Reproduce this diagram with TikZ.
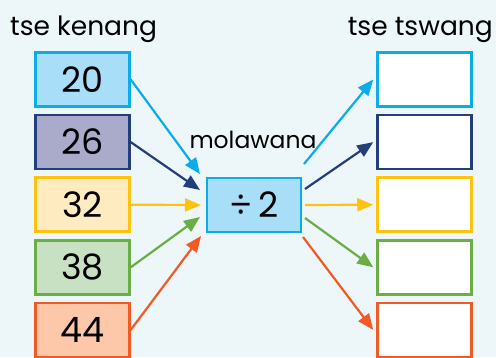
\documentclass[tikz,border=0pt]{standalone}
\usepackage{fontspec}
\setmainfont{Poppins}
\usetikzlibrary{arrows.meta}

\definecolor{bgcol}{HTML}{EDF6F8}
\definecolor{skyline}{HTML}{0AADE8}
\definecolor{skyfill}{HTML}{A8DEF7}
\definecolor{navyline}{HTML}{233F7B}
\definecolor{navyfill}{HTML}{AAAACA}
\definecolor{sunline}{HTML}{FFC20E}
\definecolor{sunfill}{HTML}{FFEBC0}
\definecolor{leafline}{HTML}{6AAE45}
\definecolor{leaffill}{HTML}{C7E1C2}
\definecolor{fireline}{HTML}{F15A24}
\definecolor{firefill}{HTML}{FDC8AA}

\tikzset{
  numbox/.style={draw=#1line, fill=#1fill, line width=2.5pt,
    minimum width=94pt, minimum height=54pt, inner sep=0pt,
    font=\fontsize{35}{35}\selectfont},
  ansbox/.style={draw=#1line, fill=white, line width=2.5pt,
    minimum width=94pt, minimum height=54pt, inner sep=0pt},
  maparrow/.style={draw=#1line, line width=2.2pt,
    -{Triangle[length=16pt,width=13pt]}},
  heading/.style={font=\fontsize{26.5}{26.5}\selectfont, inner sep=0pt}
}

\begin{document}
\begin{tikzpicture}[x=1pt,y=-1pt]

% ===== Background =====
\fill[bgcol] (0,0) rectangle (496,357);
\useasboundingbox (0,0) rectangle (496,357);

% ===== Headings =====
\node[heading, anchor=base west] (inhead) at (10,35) {tse kenang};
\node[heading, anchor=base east] (outhead) at (493,35) {tse tswang};
\node[heading, anchor=base, font=\fontsize{23.5}{23.5}\selectfont] (rulehead) at (253,148) {molawana};

% ===== Boxes =====
\foreach \i/\c/\n in {1/sky/20, 2/navy/26, 3/sun/32, 4/leaf/38, 5/fire/44} {
    \node[numbox=\c] (in\i) at (82.5,{79.5+62.6*(\i-1)}) {\n};
    \node[ansbox=\c] (out\i) at (424.5,{79.5+62.6*(\i-1)}) {};
}

\node[numbox=sky] (rule) at (254,205) {÷\hspace{6pt}2};

% ===== Arrow ends near the rule box =====
\coordinate (a1) at (200,174);
\coordinate (a2) at (200,190);
\coordinate (a3) at (201,205);
\coordinate (a4) at (200,217);
\coordinate (a5) at (201,236);

\coordinate (b1) at (304,164);
\coordinate (b2) at (305,189);
\coordinate (b3) at (305,205);
\coordinate (b4) at (305,218);
\coordinate (b5) at (303,237);

% ===== Arrows =====
\foreach \i/\c in {1/sky, 2/navy, 3/sun, 4/leaf, 5/fire} {
    \draw[maparrow=\c] (in\i.east) -- (a\i);
    \draw[maparrow=\c] (b\i) -- ([xshift=-3pt]out\i.west);
}

\end{tikzpicture}
\end{document}
